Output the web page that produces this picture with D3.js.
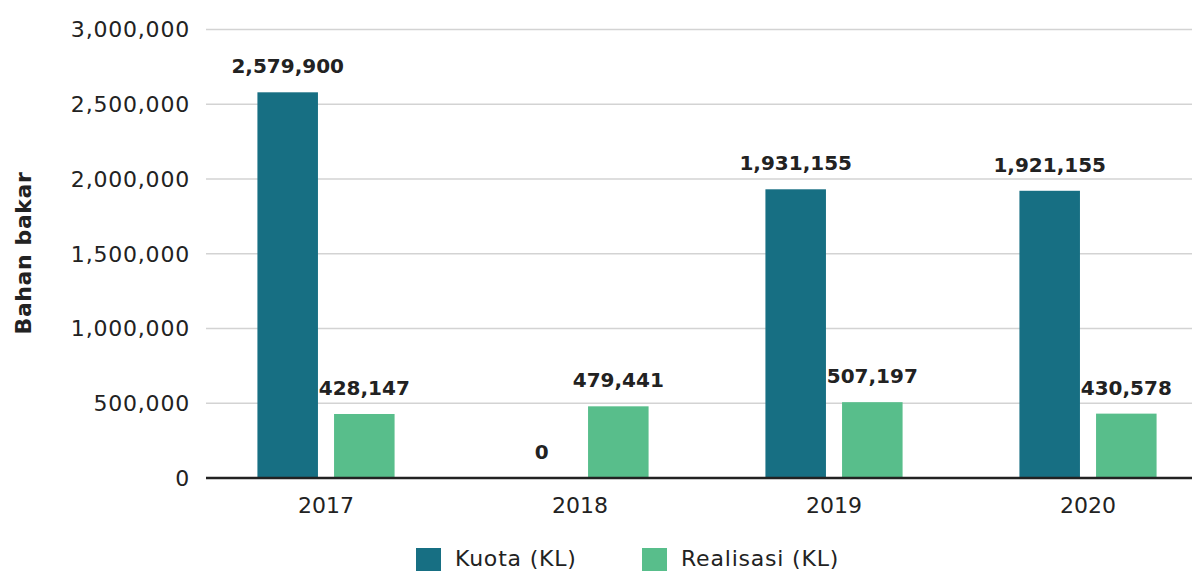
<!DOCTYPE html>
<html>
<head>
<meta charset="utf-8">
<script src="https://cdn.jsdelivr.net/npm/d3@7"></script>
<style>
    body { margin: 0; background: #fff; }
    svg { display: block; font-family: "DejaVu Sans", sans-serif; }
</style>
</head>
<body>
<script>
// Data
const years = ["2017", "2018", "2019", "2020"];
const seriesNames = ["Kuota (KL)", "Realisasi (KL)"];
const kuota = [2579900, 0, 1931155, 1921155];
const realisasi = [428147, 479441, 507197, 430578];
const yTicks = [0, 500000, 1000000, 1500000, 2000000, 2500000, 3000000];
const colors = ["#176f83", "#58be8b"];

const width = 1192;
const height = 571;

const svg = d3.select("body").append("svg")
    .attr("width", width)
    .attr("height", height);

const y = d3.scaleLinear().domain([0, 3000000]).range([478, 29.5]);

const x = d3.scaleBand()
    .domain(years)
    .range([199, 1215])
    .paddingInner(0.46)
    .paddingOuter(0.23);

const xSub = d3.scaleBand()
    .domain(seriesNames)
    .range([0, x.bandwidth()])
    .paddingInner(0.21);

// Gridlines
svg.append("g")
    .selectAll("line")
    .data(yTicks.filter(d => d > 0))
    .join("line")
    .attr("x1", 206)
    .attr("x2", width)
    .attr("y1", d => y(d))
    .attr("y2", d => y(d))
    .attr("stroke", "#d3d3d3")
    .attr("stroke-width", 1.5);

// Y tick labels
svg.append("g")
    .selectAll("text")
    .data(yTicks)
    .join("text")
    .attr("x", 190)
    .attr("y", d => y(d))
    .attr("dy", "0.36em")
    .attr("text-anchor", "end")
    .attr("font-size", 22)
    .attr("letter-spacing", 0.8)
    .attr("fill", "#222")
    .text(d => d3.format(",")(d));

// Y title
svg.append("text")
    .attr("transform", "translate(31,253) rotate(-90)")
    .attr("text-anchor", "middle")
    .attr("font-size", 22)
    .attr("font-weight", "bold")
    .attr("letter-spacing", 0.6)
    .attr("fill", "#222")
    .text("Bahan bakar");

// Bars
const rows = years.map((yr, i) => ({
    year: yr,
    values: [
        {name: seriesNames[0], value: kuota[i]},
        {name: seriesNames[1], value: realisasi[i]}
    ]
}));

const groups = svg.append("g")
    .selectAll("g")
    .data(rows)
    .join("g")
    .attr("transform", d => `translate(${x(d.year)},0)`);

groups.selectAll("rect")
    .data(d => d.values)
    .join("rect")
    .attr("x", d => xSub(d.name))
    .attr("width", xSub.bandwidth())
    .attr("y", d => y(d.value))
    .attr("height", d => y(0) - y(d.value))
    .attr("fill", (d, i) => colors[i]);

groups.selectAll("text")
    .data(d => d.values)
    .join("text")
    .attr("x", d => xSub(d.name) + xSub.bandwidth() / 2)
    .attr("y", d => y(d.value) - 19)
    .attr("text-anchor", "middle")
    .attr("font-size", 20)
    .attr("font-weight", "bold")
    .attr("fill", "#222")
    .text(d => d3.format(",")(d.value));

// X axis line
svg.append("line")
    .attr("x1", 206)
    .attr("x2", width)
    .attr("y1", y(0))
    .attr("y2", y(0))
    .attr("stroke", "#222")
    .attr("stroke-width", 2.5);

// X labels
svg.append("g")
    .selectAll("text")
    .data(years)
    .join("text")
    .attr("x", d => x(d) + x.bandwidth() / 2)
    .attr("y", 513)
    .attr("text-anchor", "middle")
    .attr("font-size", 22)
    .attr("fill", "#222")
    .text(d => d);

// Legend
const legendX = [416, 642];
const legend = svg.append("g")
    .selectAll("g")
    .data(seriesNames)
    .join("g")
    .attr("transform", (d, i) => `translate(${legendX[i]},548)`);

legend.append("rect")
    .attr("width", 25)
    .attr("height", 23)
    .attr("fill", (d, i) => colors[i]);

legend.append("text")
    .attr("x", 39)
    .attr("y", 18)
    .attr("font-size", 22)
    .attr("letter-spacing", 0.8)
    .attr("fill", "#222")
    .text(d => d);
</script>
</body>
</html>
